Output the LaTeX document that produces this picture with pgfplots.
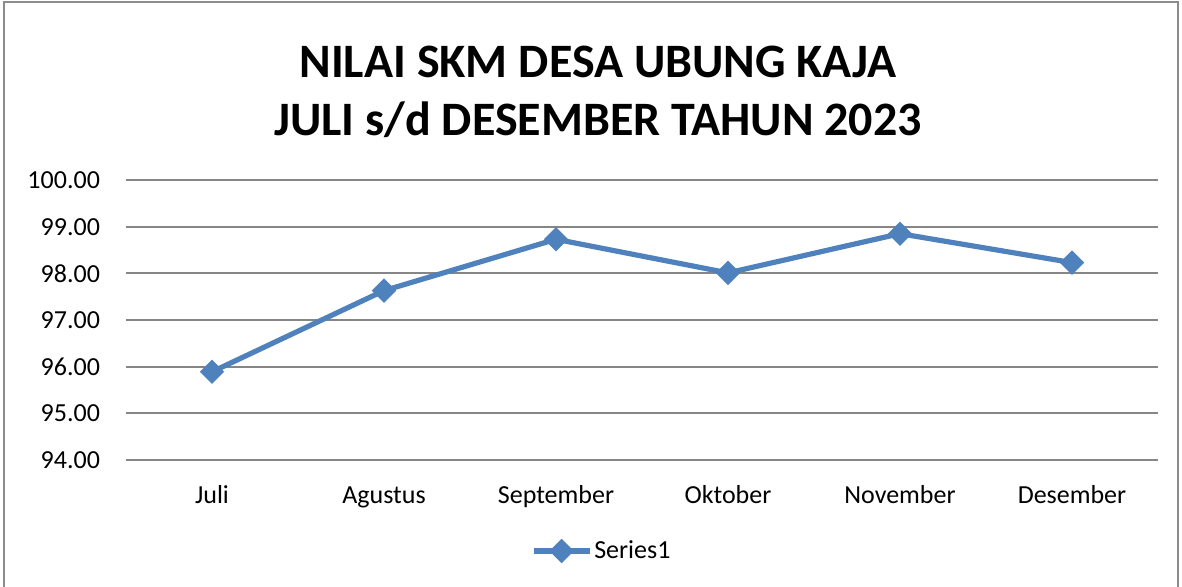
\documentclass[border=0pt]{standalone}
\usepackage{pgfplots}
\pgfplotsset{compat=1.18}
\usepackage{fontspec}
\setmainfont{Carlito}
\definecolor{xlblue}{HTML}{4F81BD}
\definecolor{gridgray}{HTML}{868686}
\definecolor{bordergray}{HTML}{8C8C8C}
\begin{document}
\begin{tikzpicture}
\useasboundingbox (0,0) rectangle (591pt,293pt);
\draw[bordergray, line width=1pt] (2pt,-5pt) -- (2pt,292pt) -- (589pt,292pt) -- (589pt,-5pt);
\node[align=center, font=\fontsize{24}{29}\selectfont\bfseries] at (299pt,247pt) {NILAI SKM DESA UBUNG KAJA\\JULI s/d DESEMBER TAHUN 2023};
\begin{axis}[
  at={(63pt,63pt)}, anchor=south west,
  scale only axis, width=516pt, height=140pt,
  xmin=-0.5, xmax=5.5, ymin=94, ymax=100,
  xtick={0,1,2,3,4,5},
  xticklabels={Juli,Agustus,September,Oktober,November,Desember},
  ytick={94,95,96,97,98,99,100},
  axis line style={draw=none},
  axis x line*=bottom,
  major tick length=0pt,
  ymajorgrids, grid style={gridgray, line width=1pt},
  /pgf/number format/assume math mode=true,
  yticklabel={\pgfmathprintnumber[fixed,fixed zerofill,precision=2]{\tick}},
  ticklabel style={font=\fontsize{13}{15}\selectfont},
  yticklabel style={xshift=-9.5pt},
  xticklabel style={anchor=base, yshift=-21.5pt},
  legend style={at={(0.461,-0.325)}, anchor=center, draw=none, font=\fontsize{13}{15}\selectfont, inner sep=0pt,
    nodes={inner sep=1pt}},
  legend image code/.code={\draw[mark repeat=2,mark phase=2,#1] plot coordinates {(0pt,0pt) (14pt,0pt) (28pt,0pt)};},
  legend cell align=left,
  clip=false,
]
\addplot[xlblue, line width=2.6pt, mark=square*, mark size=3pt, mark options={rotate=45, solid}] coordinates {
  (0,95.89) (1,97.63) (2,98.73) (3,98.01) (4,98.85) (5,98.23)
};
\addlegendentry{Series1}
\end{axis}
\end{tikzpicture}
\end{document}
